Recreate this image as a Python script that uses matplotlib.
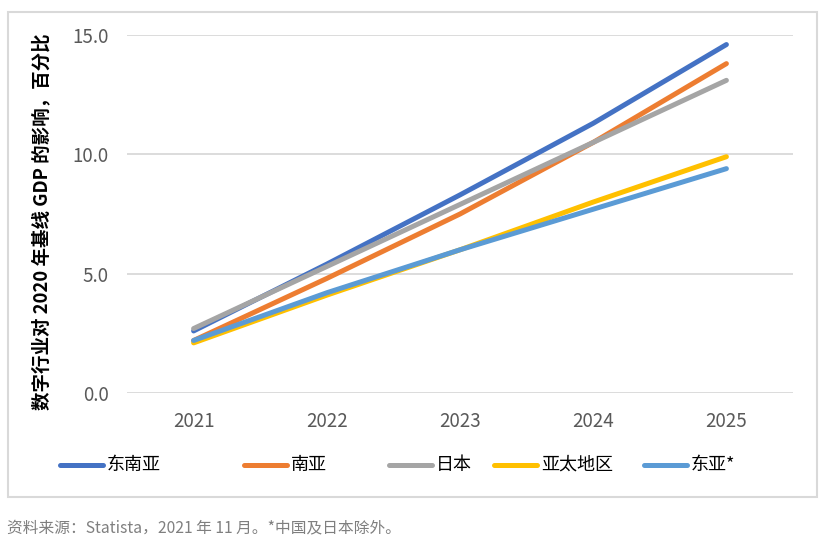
import matplotlib
matplotlib.use("Agg")
from matplotlib import pyplot as plt
from matplotlib.lines import Line2D
from matplotlib.patches import Rectangle

plt.rcParams['font.family'] = ['Noto Sans CJK SC', 'DejaVu Sans']

years = ['2021', '2022', '2023', '2024', '2025']
series_names = ['东南亚', '南亚', '日本', '亚太地区', '东亚*']
southeast_asia = [2.6, 5.4, 8.3, 11.3, 14.6]
south_asia = [2.2, 4.8, 7.5, 10.5, 13.8]
japan = [2.7, 5.3, 7.9, 10.5, 13.1]
apac = [2.1, 4.1, 6.0, 8.0, 9.9]
east_asia = [2.2, 4.2, 6.0, 7.7, 9.4]
yticks = [0.0, 5.0, 10.0, 15.0]
footnote = '资料来源：Statista，2021 年 11 月。*中国及日本除外。'
ylabel = '数字行业对 2020 年基线 GDP 的影响，百分比'

colors = ['#4472C4', '#ED7D31', '#A5A5A5', '#FFC000', '#5B9BD5']
values = [southeast_asia, south_asia, japan, apac, east_asia]

W, H = 828, 544
fig = plt.figure(figsize=(W / 100, H / 100), dpi=100)
ax = fig.add_axes([127 / W, 1 - 393 / H, (793 - 127) / W, (393 - 35) / H])

x = list(range(len(years)))
for vals, c, name in zip(values, colors, series_names):
    ax.plot(x, vals, color=c, lw=3.6, solid_capstyle='round', label=name)

ax.set_xlim(-0.5, len(years) - 0.5)
ax.set_ylim(0, 15)
ax.set_yticks(yticks)
ax.set_yticklabels([f'{v:.1f}' for v in yticks])
ax.set_xticks(x)
ax.set_xticklabels(years)
ax.tick_params(axis='both', length=0, labelsize=13.5, labelcolor='#595959')
ax.tick_params(axis='y', pad=13)
ax.tick_params(axis='x', pad=13)
ax.grid(axis='y', color='#D9D9D9', lw=1.3)
ax.set_axisbelow(True)
for s in ax.spines.values():
    s.set_visible(False)

fig.text(42 / W, 1 - 222 / H, ylabel, rotation=90, ha='center', va='center',
         fontsize=13.3, fontweight='bold', color='black')

# legend, placed like the original
leg_x = [58, 242, 387, 492, 642]
ly = 1 - 465 / H
for lx, c, name in zip(leg_x, colors, series_names):
    fig.add_artist(Line2D([(lx + 2) / W, (lx + 45) / W], [ly, ly], color=c, lw=3.6,
                          solid_capstyle='round', transform=fig.transFigure))
    fig.text((lx + 49) / W, ly, name, ha='left', va='center', fontsize=13, color='black')

fig.add_artist(Rectangle((8 / W, 1 - 497 / H), (817 - 8) / W, (497 - 12) / H,
                         transform=fig.transFigure, fill=False, edgecolor='#D9D9D9', lw=1.5))

fig.text(7 / W, 1 - 528 / H, footnote, ha='left', va='center', fontsize=11.3, color='#7F7F7F')

fig.savefig('out.png', dpi=100)
